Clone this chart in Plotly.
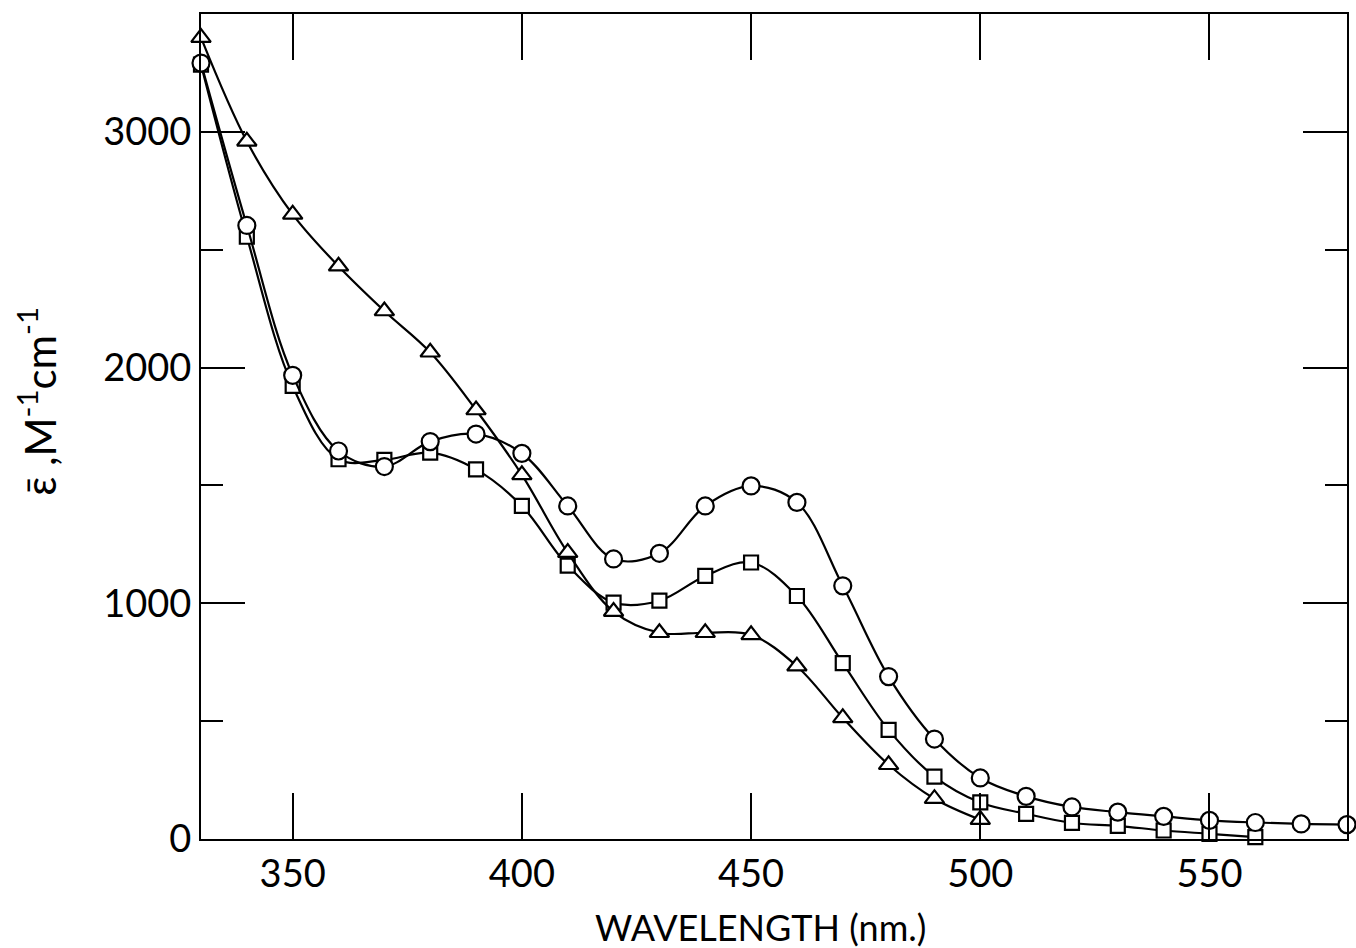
import plotly.graph_objects as go

# Wavelength grid (nm) for each sample series
wl_tri = [330, 340, 350, 360, 370, 380, 390, 400, 410, 420, 430, 440, 450, 460, 470, 480, 490, 500]
wl_sq = [330, 340, 350, 360, 370, 380, 390, 400, 410, 420, 430, 440, 450, 460, 470, 480, 490, 500,
         510, 520, 530, 540, 550, 560]
wl_circ = [330, 340, 350, 360, 370, 380, 390, 400, 410, 420, 430, 440, 450, 460, 470, 480, 490, 500,
           510, 520, 530, 540, 550, 560, 570, 580]

# Mean molar absorptivity (M^-1 cm^-1)
eps_tri = [3400, 2960, 2650, 2430, 2240, 2065, 1820, 1545, 1215, 965, 875, 875, 866, 733, 514, 315,
           171, 82]
eps_sq = [3285, 2555, 1922, 1611, 1608, 1639, 1568, 1413, 1160, 1003, 1011, 1116, 1173, 1031, 746,
          463, 265, 155, 107, 68, 56, 36, 22, 8]
eps_circ = [3292, 2603, 1967, 1646, 1580, 1686, 1718, 1636, 1413, 1188, 1212, 1413, 1498, 1428, 1074,
            689, 424, 259, 181, 136, 114, 96, 79, 70, 64, 61]

x_ticks = [350, 400, 450, 500, 550]
y_ticks = [0, 1000, 2000, 3000]

FONT = "Lato"
INK = "black"

fig = go.Figure()


def add_series(x, y, symbol, size):
    fig.add_trace(go.Scatter(
        x=x, y=y, mode="lines+markers",
        line=dict(color=INK, width=2.2, shape="spline", smoothing=1.0),
        marker=dict(symbol=symbol, size=size, color="white",
                    line=dict(color=INK, width=2.2)),
        cliponaxis=False, showlegend=False,
    ))


add_series(wl_sq, eps_sq, "square", 14)
add_series(wl_tri, eps_tri, "triangle-up", 17)
add_series(wl_circ, eps_circ, "circle", 17)

fig.update_xaxes(
    range=[330, 580], tickvals=x_ticks, ticktext=[str(v) for v in x_ticks],
    ticks="inside", ticklen=46, tickwidth=2, tickcolor=INK,
    showline=True, linewidth=2, linecolor=INK, mirror="ticks",
    showgrid=False, zeroline=False,
    tickfont=dict(family=FONT, size=38, color=INK),
)
fig.update_yaxes(
    range=[0, 3500], tickvals=y_ticks, ticktext=[str(v) for v in y_ticks],
    ticks="inside", ticklen=44, tickwidth=2, tickcolor=INK,
    minor=dict(tickvals=[500, 1500, 2500], ticks="inside", ticklen=22,
               tickwidth=2, tickcolor=INK, showgrid=False),
    showline=True, linewidth=2, linecolor=INK, mirror="ticks",
    showgrid=False, zeroline=False,
    tickfont=dict(family=FONT, size=38, color=INK),
)

fig.add_annotation(
    text="WAVELENGTH (nm.)", xref="paper", yref="paper", x=0.488, y=-0.107,
    xanchor="center", yanchor="middle", showarrow=False,
    font=dict(family=FONT, size=36, color=INK),
)
fig.add_annotation(
    text="\u03b5\u0304 ,M<sup>-1</sup>cm<sup>-1</sup>", xref="paper", yref="paper",
    x=-0.143, y=0.53, xanchor="center", yanchor="middle", textangle=-90,
    showarrow=False, font=dict(family=FONT, size=42, color=INK),
)

fig.update_layout(
    width=1356, height=948,
    margin=dict(l=201, r=7, t=14, b=109),
    paper_bgcolor="white", plot_bgcolor="white",
)

fig.write_html("out.html")
